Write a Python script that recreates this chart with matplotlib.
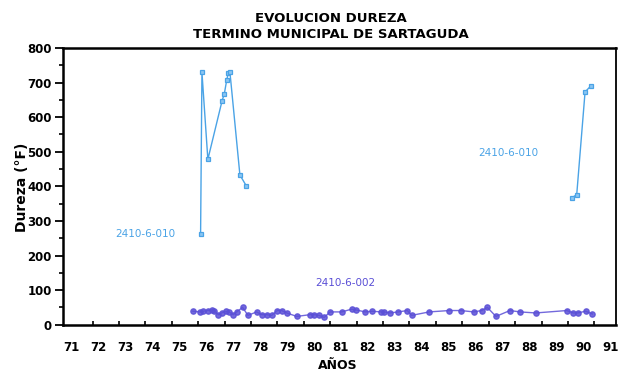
import numpy as np
import matplotlib
matplotlib.use("Agg")
import matplotlib.pyplot as plt
from matplotlib.ticker import MultipleLocator, FixedLocator

# well 2410-6-010 (two sampling periods)
x_010a = [75.79, 75.84, 76.06, 76.59, 76.67, 76.76, 76.82, 76.88, 77.25, 77.49]
y_010a = [262, 730, 478, 648, 667, 707, 728, 730, 433, 401]
x_010b = [89.58, 89.76, 90.07, 90.28]
y_010b = [367, 376, 673, 690]

# well 2410-6-002
x_002 = [75.50, 75.77, 75.89, 76.07, 76.20, 76.29, 76.45, 76.57, 76.72, 76.85,
         77.00, 77.13, 77.35, 77.55, 77.87, 78.06, 78.24, 78.43, 78.64, 78.80,
         78.99, 79.36, 79.85, 80.01, 80.19, 80.38, 80.60, 81.03, 81.40, 81.55,
         81.90, 82.17, 82.49, 82.61, 82.82, 83.13, 83.47, 83.63, 84.28, 85.03,
         85.45, 85.94, 86.23, 86.44, 86.76, 87.28, 87.65, 88.24, 89.39, 89.63,
         89.80, 90.09, 90.34]
y_002 = [39, 37, 39, 41, 43, 41, 29, 34, 39, 37,
         29, 37, 50, 27, 37, 29, 29, 27, 41, 41,
         34, 24, 29, 29, 27, 21, 37, 37, 45, 43,
         37, 39, 37, 37, 34, 37, 41, 27, 37, 41,
         41, 37, 41, 50, 24, 41, 37, 34, 41, 34,
         34, 39, 31]

year_labels = [str(y) for y in range(71, 92)]

light = "#4aa3e6"
dark = "#5a4fd6"

fig = plt.figure(figsize=(6.22, 3.75), dpi=100)
ax = fig.add_axes([0.1013, 0.1341, 0.8891, 0.7379])

for xs, ys in [(x_010a, y_010a), (x_010b, y_010b)]:
    ax.plot(xs, ys, color=light, linewidth=1.0, marker="s", markersize=3.5,
            markerfacecolor="#8cc6f2", markeredgecolor=light, markeredgewidth=0.9)

ax.plot(x_002, y_002, color=dark, linewidth=1.0, marker="o", markersize=3.8,
        markerfacecolor=dark, markeredgecolor=dark, alpha=0.85)

ax.text(73.73, 262, "2410-6-010", color=light, fontsize=7.5, ha="center", va="center")
ax.text(87.21, 496, "2410-6-010", color=light, fontsize=7.5, ha="center", va="center")
ax.text(81.15, 120, "2410-6-002", color=dark, fontsize=7.5, ha="center", va="center")

ax.set_xlim(70.68, 91.22)
ax.set_ylim(0, 800)

# year labels (no marks) and the small tick marks along the bottom axis
ax.xaxis.set_major_locator(FixedLocator(range(71, 92)))
ax.set_xticklabels(year_labels)
ax.xaxis.set_minor_locator(FixedLocator([71.78 + 0.9807 * j for j in range(20)]))
ax.tick_params(axis="x", which="major", length=0, pad=12, labelsize=8.5)
ax.tick_params(axis="x", which="minor", direction="in", length=3, width=1.2)

ax.yaxis.set_major_locator(MultipleLocator(100))
ax.yaxis.set_minor_locator(MultipleLocator(50))
ax.tick_params(axis="y", which="major", direction="out", length=6, width=1.3,
               labelsize=8.5, pad=2)
ax.tick_params(axis="y", which="minor", direction="out", length=3, width=1.2)

for lbl in ax.get_xticklabels() + ax.get_yticklabels():
    lbl.set_fontweight("bold")

for side in ["left", "bottom", "top"]:
    ax.spines[side].set_linewidth(1.8)
ax.spines["right"].set_linewidth(1.3)

fig.text(0.532, 0.952, "EVOLUCION DUREZA", ha="center", va="center",
         fontsize=9.5, fontweight="bold")
fig.text(0.532, 0.908, "TERMINO MUNICIPAL DE SARTAGUDA", ha="center", va="center",
         fontsize=9.5, fontweight="bold")
fig.text(0.036, 0.50, "Dureza (°F)", rotation=90, ha="center", va="center",
         fontsize=10, fontweight="bold")
fig.text(0.543, 0.025, "AÑOS", ha="center", va="center",
         fontsize=9, fontweight="bold")

fig.savefig("out.png", dpi=100)
